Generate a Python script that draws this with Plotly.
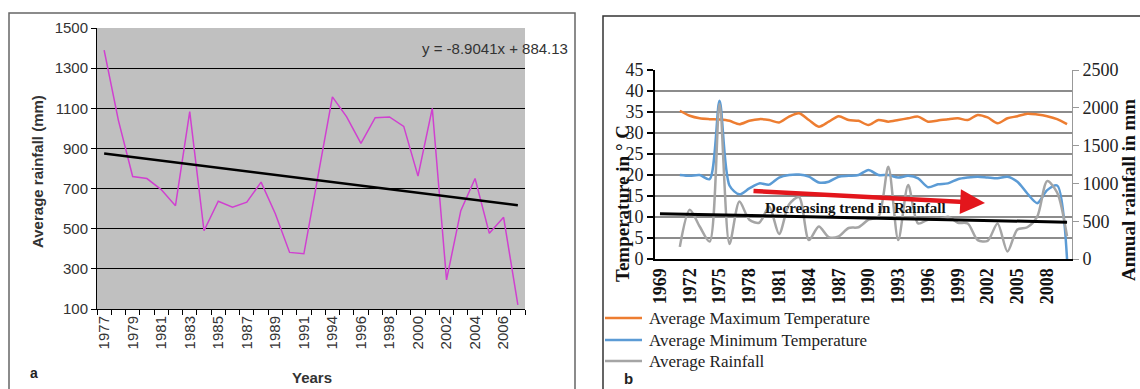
import plotly.graph_objects as go

W, H = 1140, 389

# ---------------- Panel a data ----------------
years_a = ["1977", "1978", "1979", "1980", "1981", "1982", "1983", "1984", "1985", "1986",
           "1987", "1988", "1989", "1990", "1991", "1993", "1994", "1995", "1996", "1997",
           "1998", "1999", "2000", "2001", "2002", "2003", "2004", "2005", "2006", "2007"]
rain_a = [1390, 1040, 760, 750, 695, 615, 1083, 490, 637, 607,
          632, 732, 575, 382, 375, 760, 1157, 1057, 925, 1053,
          1057, 1010, 762, 1100, 245, 590, 750, 477, 557, 120]
trend_a_idx = [0, 29]
trend_a_vals = [875.2, 617.0]
equation_text = "y = -8.9041x + 884.13"

# ---------------- Panel b data ----------------
years_b = list(range(1971, 2011))
max_temp = [35.3, 34.1, 33.5, 33.3, 33.2, 32.9, 32.1, 32.9, 33.3, 33.1,
            32.5, 33.9, 34.7, 33.1, 31.5, 32.7, 34.0, 33.1, 32.9, 31.9,
            33.1, 32.7, 33.1, 33.5, 33.9, 32.7, 33.0, 33.3, 33.5, 33.1,
            34.3, 33.7, 32.3, 33.5, 34.0, 34.6, 34.4, 34.0, 33.3, 32.1]
min_temp = [20.0, 19.8, 20.0, 19.0, 37.7, 17.5, 15.4, 16.8, 18.0, 17.7,
            19.4, 20.0, 20.1, 19.6, 18.2, 18.4, 19.6, 19.8, 20.0, 21.2,
            20.0, 20.0, 19.4, 19.8, 19.2, 17.1, 17.8, 18.0, 19.0, 19.4,
            19.6, 19.4, 19.2, 19.6, 18.4, 15.6, 13.3, 16.4, 17.5, 0.0]
rain_b = [160, 650, 430, 230, 2050, 200, 760, 520, 480, 690,
          330, 720, 820, 250, 430, 290, 300, 410, 420, 520,
          560, 1220, 250, 980, 470, 520, 520, 560, 480, 470,
          250, 240, 470, 100, 390, 420, 560, 1030, 880, 300]
trend_b_years = [1969, 2010]
trend_b_vals = [600, 487]
xticks_b = list(range(1969, 2009, 3))

legend_names = ["Average Maximum Temperature", "Average Minimum Temperature", "Average Rainfall"]
legend_colors = ["#ED7D31", "#5B9BD5", "#A5A5A5"]


def px(x):
    return x / W


def py(y):
    return 1 - y / H


fig = go.Figure()

# Panel a traces
fig.add_trace(go.Scatter(x=list(range(len(years_a))), y=rain_a, mode="lines",
                         line=dict(color="#D040D0", width=1.5), showlegend=False,
                         xaxis="x", yaxis="y", hoverinfo="skip"))
fig.add_trace(go.Scatter(x=trend_a_idx, y=trend_a_vals, mode="lines",
                         line=dict(color="black", width=2.5), showlegend=False,
                         xaxis="x", yaxis="y"))

# Panel b traces
fig.add_trace(go.Scatter(x=years_b, y=max_temp, mode="lines", name=legend_names[0],
                         line=dict(color=legend_colors[0], width=2.5, shape="spline", smoothing=0.8),
                         xaxis="x2", yaxis="y2", showlegend=False))
fig.add_trace(go.Scatter(x=years_b, y=min_temp, mode="lines", name=legend_names[1],
                         line=dict(color=legend_colors[1], width=2.5, shape="spline", smoothing=0.8),
                         xaxis="x2", yaxis="y2", showlegend=False))
fig.add_trace(go.Scatter(x=years_b, y=rain_b, mode="lines", name=legend_names[2],
                         line=dict(color=legend_colors[2], width=2.5, shape="spline", smoothing=0.8),
                         xaxis="x2", yaxis="y3", showlegend=False))
fig.add_trace(go.Scatter(x=trend_b_years, y=trend_b_vals, mode="lines",
                         line=dict(color="black", width=3), showlegend=False,
                         xaxis="x2", yaxis="y3"))

sans = "Liberation Sans, Arial, sans-serif"
serif = "Liberation Serif, Times New Roman, serif"

shapes = [
    dict(type="rect", xref="x domain", yref="y domain", x0=0, x1=1, y0=0, y1=1,
         fillcolor="#C0C0C0", line=dict(width=0), layer="below"),
    dict(type="rect", xref="paper", yref="paper", x0=px(9), x1=px(575), y0=py(400), y1=py(13),
         line=dict(color="#666", width=1.5), layer="below"),
    dict(type="rect", xref="paper", yref="paper", x0=px(603), x1=px(1150), y0=py(400), y1=py(16),
         line=dict(color="#333", width=1.5), layer="below"),
]
annotations = [
    dict(text=equation_text, xref="paper", yref="paper", x=px(420), y=py(48),
         xanchor="left", yanchor="middle", showarrow=False,
         font=dict(family=sans, size=15, color="#333")),
    dict(text="<b>Average rainfall (mm)</b>", xref="paper", yref="paper", x=px(37), y=py(171),
         textangle=-90, showarrow=False, xanchor="center", yanchor="middle",
         font=dict(family=sans, size=15, color="#333")),
    dict(text="<b>Years</b>", xref="paper", yref="paper", x=px(312), y=py(377),
         showarrow=False, xanchor="center", yanchor="middle",
         font=dict(family=sans, size=15, color="#333")),
    dict(text="<b>a</b>", xref="paper", yref="paper", x=px(34), y=py(373),
         showarrow=False, xanchor="center", yanchor="middle",
         font=dict(family=sans, size=14, color="#222")),
    dict(text="<b>Temperature in ° C</b>", xref="paper", yref="paper", x=px(622), y=py(204),
         textangle=-90, showarrow=False, xanchor="center", yanchor="middle",
         font=dict(family=serif, size=19, color="#111")),
    dict(text="<b>Annual rainfall in mm</b>", xref="paper", yref="paper", x=px(1129), y=py(190),
         textangle=-90, showarrow=False, xanchor="center", yanchor="middle",
         font=dict(family=serif, size=19, color="#111")),
    dict(text="<b>Decreasing trend in Rainfall</b>", xref="paper", yref="paper", x=px(855), y=py(208),
         showarrow=False, xanchor="center", yanchor="middle",
         font=dict(family=serif, size=15, color="#111")),
    dict(text="", xref="paper", yref="paper", x=px(985), y=py(203),
         ax=752 - 985, ay=191 - 203, axref="pixel", ayref="pixel",
         showarrow=True, arrowhead=2, arrowsize=1.1, arrowwidth=4.5, arrowcolor="#E3161C"),
    dict(text="<b>b</b>", xref="paper", yref="paper", x=px(628), y=py(378),
         showarrow=False, xanchor="center", yanchor="middle",
         font=dict(family=sans, size=15, color="#222")),
]

# manual legend (line samples + labels)
legend_rows = [318, 340, 361]
for name, color, ry in zip(legend_names, legend_colors, legend_rows):
    shapes.append(dict(type="line", xref="paper", yref="paper", x0=px(605), x1=px(642),
                       y0=py(ry), y1=py(ry), line=dict(color=color, width=2.5)))
    annotations.append(dict(text=name, xref="paper", yref="paper", x=px(647), y=py(ry),
                            xanchor="left", yanchor="middle", showarrow=False,
                            font=dict(family=serif, size=17, color="#222")))

fig.update_layout(
    width=W, height=H, autosize=False,
    margin=dict(l=0, r=0, t=0, b=0, autoexpand=False),
    paper_bgcolor="white", plot_bgcolor="rgba(0,0,0,0)",
    showlegend=False,
    xaxis=dict(domain=[px(97), px(525)], range=[-0.5, 29.5],
               tickmode="array", tickvals=list(range(0, 30, 2)), ticktext=years_a[::2],
               tickangle=-90, ticks="", showgrid=False, zeroline=False,
               showline=True, linecolor="black", linewidth=1,
               tickfont=dict(family=sans, size=15, color="#333"),
               minor=dict(tick0=-0.5, dtick=1, ticks="outside", ticklen=5,
                          tickcolor="black", tickwidth=1, showgrid=False),
               anchor="y"),
    yaxis=dict(domain=[py(309), py(28)], range=[100, 1500], tick0=100, dtick=200,
               showgrid=True, gridcolor="black", gridwidth=1, zeroline=False,
               showline=True, linecolor="black", linewidth=1,
               ticks="outside", ticklen=5, tickcolor="black",
               tickfont=dict(family=sans, size=15, color="#333"), anchor="x"),
    xaxis2=dict(domain=[px(655), px(1072)], range=[1968.5, 2010.5],
                tickmode="array", tickvals=xticks_b, tickangle=-90, ticks="",
                showgrid=False, zeroline=False, showline=True, linecolor="black", linewidth=2,
                tickfont=dict(family=serif, size=18, color="#111", weight="bold"),
                anchor="y2"),
    yaxis2=dict(domain=[py(259), py(70)], range=[0, 45], tick0=0, dtick=5,
                showgrid=True, gridcolor="#8C8C8C", gridwidth=1.5, zeroline=False,
                showline=True, linecolor="black", linewidth=2,
                ticks="outside", ticklen=6, tickcolor="black", tickwidth=2,
                tickfont=dict(family=serif, size=18, color="#222"), anchor="x2"),
    yaxis3=dict(overlaying="y2", side="right", range=[0, 2500], tick0=0, dtick=500,
                showgrid=False, zeroline=False, showline=True, linecolor="#999", linewidth=1,
                ticks="outside", ticklen=6, tickcolor="#999",
                tickfont=dict(family=serif, size=18, color="#222"), anchor="x2"),
    shapes=shapes,
    annotations=annotations,
)

fig.write_html("out.html",
               config={"displayModeBar": False},
               post_script="document.body.style.margin='0';document.body.style.overflow='hidden';")
